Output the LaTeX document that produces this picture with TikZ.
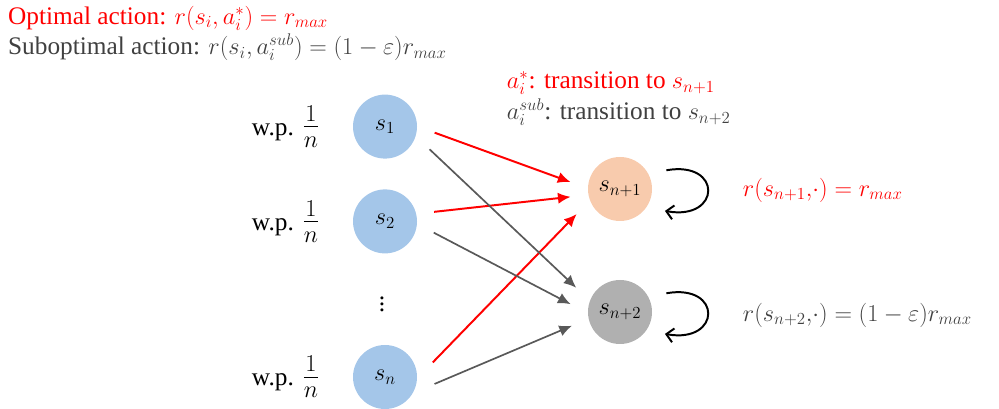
\documentclass[tikz,border=0pt]{standalone}
\usepackage{fontspec}
\setmainfont{Liberation Serif}
\DeclareMathSizes{18}{19}{13}{10}
\usetikzlibrary{arrows.meta}
\definecolor{stateblue}{RGB}{164,198,233}
\definecolor{stateorange}{RGB}{248,203,173}
\definecolor{stategray}{RGB}{176,176,176}
\definecolor{textgray}{RGB}{64,64,64}
\definecolor{arrowgray}{RGB}{89,89,89}
\newcommand{\wpfrac}{{\fontsize{24}{28}\selectfont$\frac{1}{n}$}}
\begin{document}
\begin{tikzpicture}[scale=1.0,
    every node/.style={font=\fontsize{18}{22}\selectfont},
    state/.style={circle, minimum size=1.6cm, inner sep=0pt, outer sep=0.45cm},
    optarrow/.style={red, line width=1.4pt, -{Latex[length=9pt,width=8pt]}},
    subarrow/.style={arrowgray, line width=1.2pt, -{Latex[length=9pt,width=8pt]}},
    selfloop/.style={black, line width=1.4pt, -{Straight Barb[length=5pt,width=10pt]}}]
  \useasboundingbox (0,0) rectangle (24.975,10.225);
  % Rewards of the two actions
  \node[red, anchor=west] (optlbl) at (0.08,9.77) {Optimal action: $r(s_i,a_i^*)=r_{max}$};
  \node[textgray, anchor=west] (sublbl) at (0.08,9.04) {Suboptimal action: $r(s_i,a_i^{sub})=(1-\varepsilon)r_{max}$};
  % Transitions of the two actions
  \node[red, anchor=west] (optmove) at (12.55,8.15) {$a_i^*$: transition to $s_{n+1}$};
  \node[textgray, anchor=west] (submove) at (12.55,7.42) {$a_i^{sub}$: transition to $s_{n+2}$};
  % Start states
  \node[state, fill=stateblue] (s1) at (9.625,7.06) {$s_1$};
  \node[state, fill=stateblue] (s2) at (9.625,4.69) {$s_2$};
  \node (dots) at (9.55,2.72) {$\vdots$};
  \node[state, fill=stateblue] (sn) at (9.625,0.8) {$s_n$};
  % Probabilities
  \node[anchor=east] (p1) at (8.12,7.06) {w.p. \wpfrac};
  \node[anchor=east] (p2) at (8.12,4.69) {w.p. \wpfrac};
  \node[anchor=east] (pn) at (8.12,0.8) {w.p. \wpfrac};
  % Absorbing states
  \node[state, fill=stateorange] (sa) at (15.5,5.5) {$s_{n+1}$};
  \node[state, fill=stategray] (sb) at (15.5,2.425) {$s_{n+2}$};
  \node[red, anchor=west] (ra) at (18.45,5.47) {$r(s_{n+1}{,}\cdot)=r_{max}$};
  \node[textgray, anchor=west] (rb) at (18.45,2.35) {$r(s_{n+2}{,}\cdot)=(1-\varepsilon)r_{max}$};
  % Optimal transitions
  \draw[optarrow] (s1.-7) -- (sa.172);
  \draw[optarrow] (s2.11) -- (sa.-171);
  \draw[optarrow] (sn.17) -- (sa.-150);
  % Suboptimal transitions
  \draw[subarrow] (s1.-27) -- (sb.151);
  \draw[subarrow] (s2.-13) -- (sb.171);
  \draw[subarrow] (sn.-8) -- (sb.-164);
  % Self loops
  \draw[selfloop] (sa.22) to[out=10, in=-10, looseness=3.6] (sa.-26);
  \draw[selfloop] (sb.22) to[out=10, in=-10, looseness=3.6] (sb.-26);
\end{tikzpicture}
\end{document}
